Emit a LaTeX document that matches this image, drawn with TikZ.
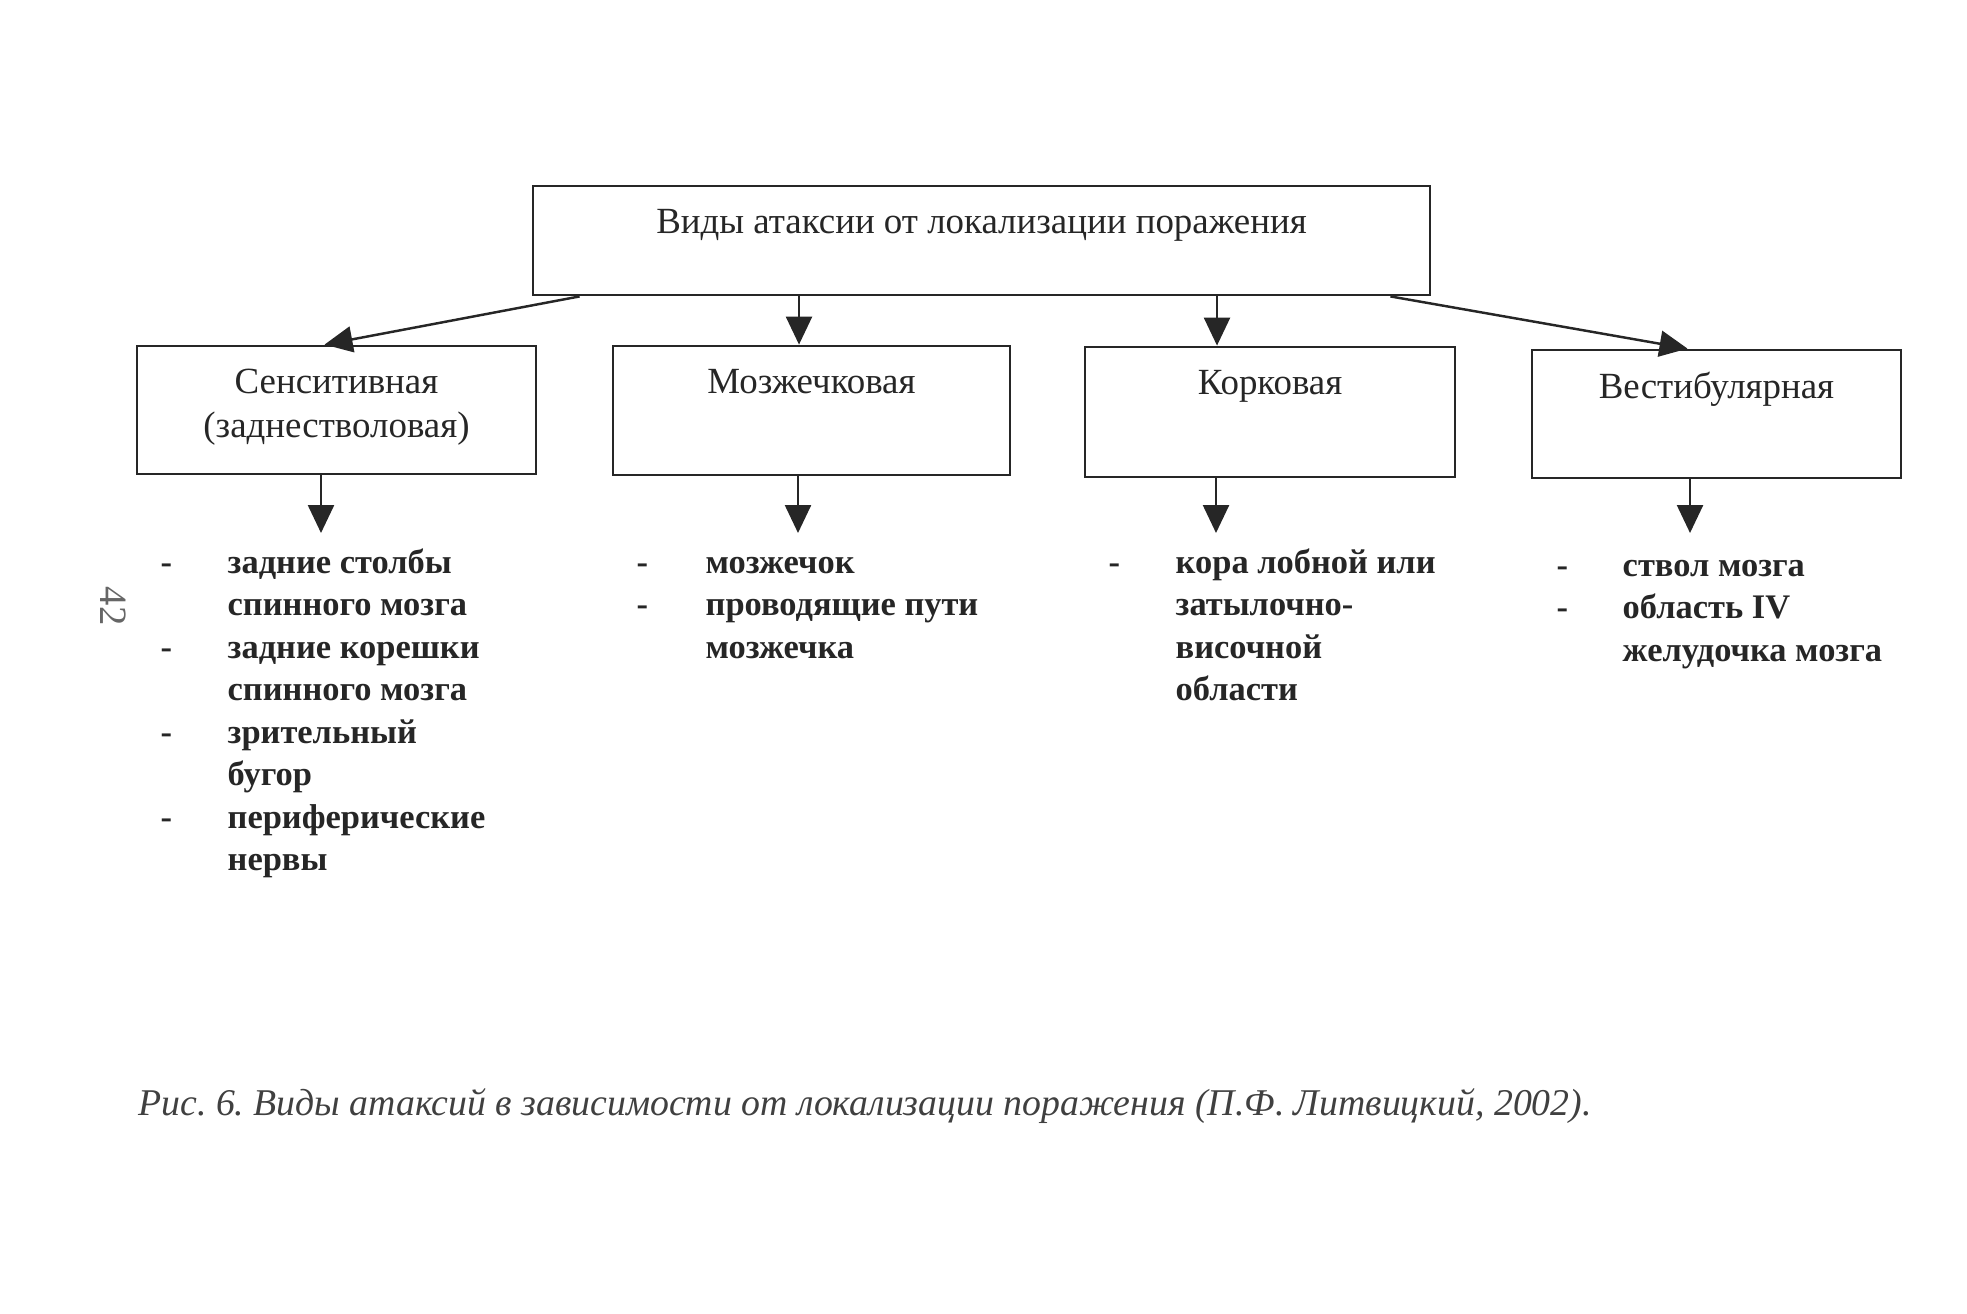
\documentclass[tikz,border=0pt]{standalone}
\usepackage{fontspec}
\setmainfont{Liberation Serif}
\usetikzlibrary{arrows.meta, positioning}
\frenchspacing

\begin{document}
\begin{tikzpicture}[
    >={Triangle[length=2.8mm, width=2.6mm]},
    catbox/.style={draw=black!85, line width=0.8pt, inner sep=0pt},
    boxtitle/.style={align=center, inner sep=0pt, text=black!85, font=\fontsize{10.5}{12.5}\selectfont},
    itemlist/.style={anchor=base west, inner sep=0pt, text=black!85, font=\bfseries\fontsize{9.8}{12.1}\selectfont},
    link/.style={->, line width=0.7pt, draw=black!85}
  ]
  \useasboundingbox (0,0) rectangle (19.67,-13.13);

  % Root
  \node[catbox, minimum width=8.97cm, minimum height=1.09cm] (types) at (9.815,-2.405) {};
  \node[boxtitle, below=0.24cm of types.north] (types-t) {Виды атаксии от локализации поражения};

  % Kinds
  \node[catbox, minimum width=3.99cm, minimum height=1.28cm] (sens)  at (3.365,-4.10)  {};
  \node[catbox, minimum width=3.97cm, minimum height=1.29cm] (cereb) at (8.115,-4.105) {};
  \node[catbox, minimum width=3.70cm, minimum height=1.30cm] (cort)  at (12.70,-4.12)  {};
  \node[catbox, minimum width=3.69cm, minimum height=1.28cm] (vest)  at (17.165,-4.14) {};
  \node[boxtitle, below=0.24cm of sens.north]  (sens-t)  {Сенситивная\\(заднестволовая)};
  \node[boxtitle, below=0.24cm of cereb.north] (cereb-t) {Мозжечковая};
  \node[boxtitle, below=0.24cm of cort.north]  (cort-t)  {Корковая};
  \node[boxtitle, below=0.225cm of vest.north] (vest-t)  {Вестибулярная};

  % Arrows
  \draw[link] ([xshift=0.48cm]types.south west) -- ([xshift=-0.12cm]sens.north);
  \draw[link] ([xshift=-0.125cm]cereb.north |- types.south) -- ([xshift=-0.125cm]cereb.north);
  \draw[link] ([xshift=-0.53cm]cort.north |- types.south) -- ([xshift=-0.53cm]cort.north);
  \draw[link] ([xshift=-0.41cm]types.south east) -- ([xshift=-0.29cm]vest.north);

  \coordinate (sens-d)  at (3.21,-5.33);
  \coordinate (cereb-d) at (7.98,-5.33);
  \coordinate (cort-d)  at (12.16,-5.33);
  \coordinate (vest-d)  at (16.90,-5.33);
  \draw[link] (sens.south -| sens-d) -- (sens-d);
  \draw[link] (cereb.south -| cereb-d) -- (cereb-d);
  \draw[link] (cort.south -| cort-d) -- (cort-d);
  \draw[link] (vest.south -| vest-d) -- (vest-d);

  % Lists
  \node[itemlist] (sens-l) at (1.60,-5.73) {\begin{tabular}[t]{@{}p{0.67cm}@{}l@{}}
    - & задние столбы\\
      & спинного мозга\\
    - & задние корешки\\
      & спинного мозга\\
    - & зрительный\\
      & бугор\\
    - & периферические\\
      & нервы
  \end{tabular}};
  \node[itemlist] (cereb-l) at (6.36,-5.73) {\begin{tabular}[t]{@{}p{0.69cm}@{}l@{}}
    - & мозжечок\\
    - & проводящие пути\\
      & мозжечка
  \end{tabular}};
  \node[itemlist] (cort-l) at (11.08,-5.73) {\begin{tabular}[t]{@{}p{0.67cm}@{}l@{}}
    - & кора лобной или\\
      & затылочно-\\
      & височной\\
      & области
  \end{tabular}};
  \node[itemlist] (vest-l) at (15.56,-5.76) {\begin{tabular}[t]{@{}p{0.66cm}@{}l@{}}
    - & ствол мозга\\
    - & область IV\\
      & желудочка мозга
  \end{tabular}};

  % Page number and caption
  \node[rotate=-90, text=black!60, font=\fontsize{11}{13}\selectfont] (page) at (1.13,-6.06) {42};
  \node[anchor=west, text=black!75, font=\itshape\fontsize{10.75}{13}\selectfont] (caption) at (1.26,-11.06)
    {Рис. 6. Виды атаксий в зависимости от локализации поражения (П.Ф. Литвицкий, 2002).};
\end{tikzpicture}
\end{document}
